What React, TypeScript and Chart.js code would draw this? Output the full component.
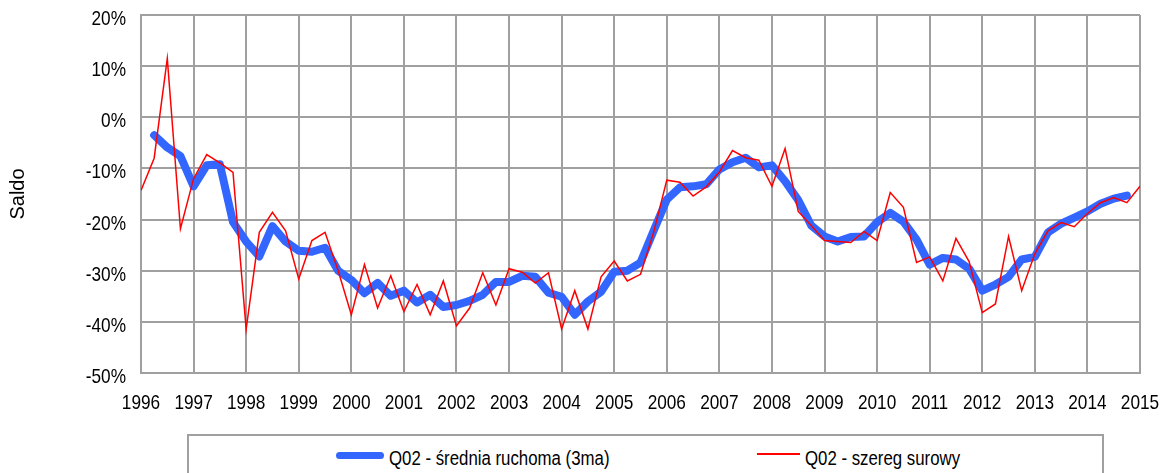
import React, { useEffect, useRef } from 'react';
import { Chart, registerables } from 'chart.js';

Chart.register(...registerables);

const startYear = 1996;
const yearTicks = [1996, 1997, 1998, 1999, 2000, 2001, 2002, 2003, 2004, 2005, 2006, 2007, 2008, 2009, 2010, 2011, 2012, 2013, 2014, 2015];
const yTickValues = [20, 10, 0, -10, -20, -30, -40, -50];

const seriesMaLabel = 'Q02 - średnia ruchoma (3ma)';
const seriesRawLabel = 'Q02 - szereg surowy';
const yAxisTitle = 'Saldo';

// quarterly raw series 1996Q1 .. 2015Q1
const rawSeries = [
  -14.3, -8, 11.5, -21.8, -12, -7.3, -8.9, -10.8,
  -41.4, -22.5, -18.6, -22.2, -31.6, -24.1, -22.5, -30,
  -38.6, -28.8, -37.3, -31, -38, -32.7, -38.6, -32,
  -40.8, -37.3, -30.4, -36.7, -29.6, -30.3, -32.4, -30.4,
  -41.4, -33.9, -41.4, -31.2, -28.1, -32, -30.7, -22.5,
  -12.3, -12.7, -15.4, -13.6, -10.7, -6.5, -7.9, -8.4,
  -13.5, -6.1, -18.4, -21.2, -24.1, -24.3, -24.5, -22.3,
  -24.1, -14.7, -17.6, -28.4, -27.3, -32, -23.7, -28.2,
  -38.2, -36.5, -23.3, -33.9, -26.7, -22.2, -20.6, -21.4,
  -18.8, -16.7, -15.7, -16.7, -13.5,
];

// 3-quarter moving average, 1996Q2 .. 2014Q4
const maSeries = [
  null, -3.5, -5.9, -7.6, -13.5, -9.4, -9.2, -20.5,
  -24.3, -27.2, -21.3, -24.3, -26.1, -26.3, -25.5, -30,
  -31.8, -34.4, -32.4, -34.9, -33.9, -36.2, -34.7, -37.1,
  -36.7, -35.9, -34.7, -32.2, -32.2, -31, -31.2, -34.3,
  -35.1, -38.6, -36, -34.1, -30.2, -30, -28.4, -22.2,
  -16.1, -13.7, -13.5, -13.1, -10.2, -8.8, -7.9, -9.8,
  -9.4, -12.5, -16.2, -21.2, -23.3, -24.3, -23.4, -23.3,
  -20.5, -18.7, -20.4, -23.9, -28.8, -27.5, -27.8, -29.6,
  -33.9, -32.7, -31.2, -27.8, -27.3, -22.5, -20.8, -19.6,
  -18.4, -16.9, -15.9, -15.3, null,
];

const quarterX = rawSeries.map((_, i) => startYear + i / 4);

const REGULAR = "'Liberation Sans', Arial, sans-serif";
const NARROW_SCALE = 0.82;
const GRID = '#a0a0a0';
const BLUE = '#3366ff';
const RED = '#ff0000';

const formatY = (v: number) => v + '%';
const formatX = (v: number) => String(v);

// Draws tick labels in a horizontally condensed face (Arial Narrow look)
const narrowTicksPlugin = {
  id: 'narrowTicks',
  afterDraw(chart: any) {
    const ctx = chart.ctx as CanvasRenderingContext2D;
    const xs = chart.scales.x;
    const ys = chart.scales.y;
    ctx.save();
    ctx.fillStyle = '#000';
    ctx.font = `21px ${REGULAR}`;
    ctx.textBaseline = 'alphabetic';
    xs.ticks.forEach((t: any) => {
      const px = xs.getPixelForValue(t.value);
      ctx.save();
      ctx.translate(px, xs.top + 36);
      ctx.scale(NARROW_SCALE, 1);
      ctx.textAlign = 'center';
      ctx.fillText(formatX(t.value), 0, 0);
      ctx.restore();
    });
    ys.ticks.forEach((t: any) => {
      const py = ys.getPixelForValue(t.value);
      ctx.save();
      ctx.translate(ys.right - 15, py + 10);
      ctx.scale(NARROW_SCALE, 1);
      ctx.textAlign = 'right';
      ctx.fillText(formatY(t.value), 0, 0);
      ctx.restore();
    });
    ctx.restore();
  },
};

export default function App() {
  const canvasRef = useRef<HTMLCanvasElement | null>(null);

  useEffect(() => {
    const canvas = canvasRef.current;
    if (!canvas) return;
    const chart = new Chart(canvas, {
      type: 'line',
      data: {
        datasets: [
          {
            label: seriesRawLabel,
            data: rawSeries.map((v, i) => ({ x: quarterX[i], y: v })),
            borderColor: RED,
            backgroundColor: RED,
            borderWidth: 1.5,
            pointRadius: 0,
            tension: 0,
            order: 1,
          },
          {
            label: seriesMaLabel,
            data: maSeries.map((v, i) => ({ x: quarterX[i], y: v })),
            borderColor: BLUE,
            backgroundColor: BLUE,
            borderWidth: 8,
            borderJoinStyle: 'round',
            borderCapStyle: 'round',
            pointRadius: 0,
            tension: 0,
            spanGaps: false,
            order: 2,
          },
        ],
      },
      options: {
        animation: false,
        responsive: false,
        maintainAspectRatio: false,
        layout: { padding: { left: 0, top: 15, right: 31, bottom: 0 } },
        plugins: {
          legend: { display: false },
          tooltip: { enabled: false },
        },
        scales: {
          x: {
            type: 'linear',
            min: yearTicks[0],
            max: yearTicks[yearTicks.length - 1],
            afterBuildTicks: (scale: any) => {
              scale.ticks = yearTicks.map((v) => ({ value: v }));
            },
            afterFit: (scale: any) => {
              scale.height = 100;
            },
            ticks: { display: false, autoSkip: false, maxRotation: 0, callback: (v: any) => formatX(v) },
            grid: { color: GRID, lineWidth: 2, drawTicks: false },
            border: { color: GRID, width: 2 },
          },
          y: {
            type: 'linear',
            min: yTickValues[yTickValues.length - 1],
            max: yTickValues[0],
            afterBuildTicks: (scale: any) => {
              scale.ticks = yTickValues.map((v) => ({ value: v }));
            },
            afterFit: (scale: any) => {
              scale.width = 141;
            },
            ticks: { display: false, callback: (v: any) => formatY(v) },
            grid: { color: GRID, lineWidth: 2, drawTicks: false },
            border: { color: GRID, width: 2 },
            title: {
              display: true,
              text: yAxisTitle,
              color: '#000',
              font: { family: REGULAR, size: 20 },
              padding: { top: 6, bottom: 0 },
            },
          },
        },
      },
      plugins: [narrowTicksPlugin],
    });
    return () => chart.destroy();
  }, []);

  const legendText: React.CSSProperties = {
    position: 'absolute',
    top: 446,
    fontFamily: REGULAR,
    fontSize: 20.5,
    lineHeight: '24px',
    color: '#000',
    whiteSpace: 'nowrap',
    transform: `scaleX(${NARROW_SCALE})`,
    transformOrigin: '0 0',
  };

  return (
    <div style={{ position: 'fixed', left: 0, top: 0, width: 1171, height: 473, background: '#fff', overflow: 'hidden' }}>
      <canvas ref={canvasRef} width={1171} height={473} style={{ position: 'absolute', left: 0, top: 0, width: 1171, height: 473 }} />
      <div
        style={{
          position: 'absolute',
          left: 187,
          top: 434,
          width: 917,
          height: 80,
          border: `2px solid ${GRID}`,
          boxSizing: 'border-box',
          background: '#fff',
        }}
      />
      <div style={{ position: 'absolute', left: 336, top: 452, width: 48, height: 7, borderRadius: 4, background: BLUE }} />
      <div style={{ ...legendText, left: 389 }}>{seriesMaLabel}</div>
      <div style={{ position: 'absolute', left: 757, top: 453, width: 43, height: 2, background: RED }} />
      <div style={{ ...legendText, left: 805 }}>{seriesRawLabel}</div>
    </div>
  );
}
